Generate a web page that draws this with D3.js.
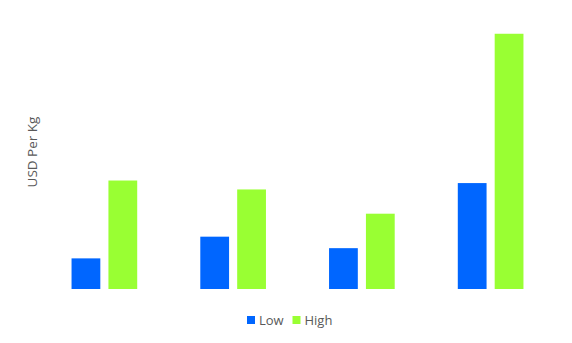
<!DOCTYPE html>
<html>
<head>
<meta charset="utf-8">
<script src="https://cdn.jsdelivr.net/npm/d3@7"></script>
<style>
  body { margin: 0; background: #fff; }
  text { font-family: "Open Sans", "Noto Sans", sans-serif; }
</style>
</head>
<body>
<div id="chart"></div>
<script>
// values (USD per kg, no axis shown so units are estimates)
const categories = ["Cat 1", "Cat 2", "Cat 3", "Cat 4"];
const series = ["Low", "High"];
const lowValues = [1.2, 2.05, 1.6, 4.15];
const highValues = [4.25, 3.9, 2.95, 10.0];
const colors = ["#0066ff", "#99ff33"];

const width = 572, height = 343;
const margin = { top: 21, right: 17, bottom: 54, left: 40 };

const svg = d3.select("#chart")
  .append("svg")
  .attr("width", width)
  .attr("height", height);

const x0 = d3.scaleBand()
  .domain(categories)
  .range([margin.left, width - margin.right])
  .paddingInner(0.49)
  .paddingOuter(0.245);

const x1 = d3.scaleBand()
  .domain(series)
  .range([0, x0.bandwidth()])
  .paddingInner(0.22);

const y = d3.scaleLinear()
  .domain([0, 10.5])
  .range([height - margin.bottom, margin.top]);

const color = d3.scaleOrdinal().domain(series).range(colors);

const rows = categories.map((c, i) => ({ cat: c, Low: lowValues[i], High: highValues[i] }));

const groups = svg.append("g")
  .selectAll("g")
  .data(rows)
  .join("g")
  .attr("transform", d => `translate(${x0(d.cat)},0)`);

groups.selectAll("rect")
  .data(d => series.map(s => ({ key: s, value: d[s] })))
  .join("rect")
  .attr("x", d => x1(d.key))
  .attr("y", d => y(d.value))
  .attr("width", x1.bandwidth())
  .attr("height", d => y(0) - y(d.value))
  .attr("fill", d => color(d.key));

// y axis title only
svg.append("text")
  .attr("transform", "translate(37,152) rotate(-90)")
  .attr("text-anchor", "middle")
  .attr("fill", "#595959")
  .attr("font-size", "13.5px")
  .text("USD Per Kg");

// legend
const legend = svg.append("g").attr("transform", "translate(247,316)");
const legendX = [0, 45.5];
series.forEach((s, i) => {
  const g = legend.append("g").attr("transform", `translate(${legendX[i]},0)`);
  g.append("rect")
    .attr("width", 8)
    .attr("height", 8)
    .attr("fill", color(s));
  g.append("text")
    .attr("x", 12)
    .attr("y", 8.5)
    .attr("fill", "#595959")
    .attr("font-size", "13px")
    .text(s);
});
</script>
</body>
</html>
